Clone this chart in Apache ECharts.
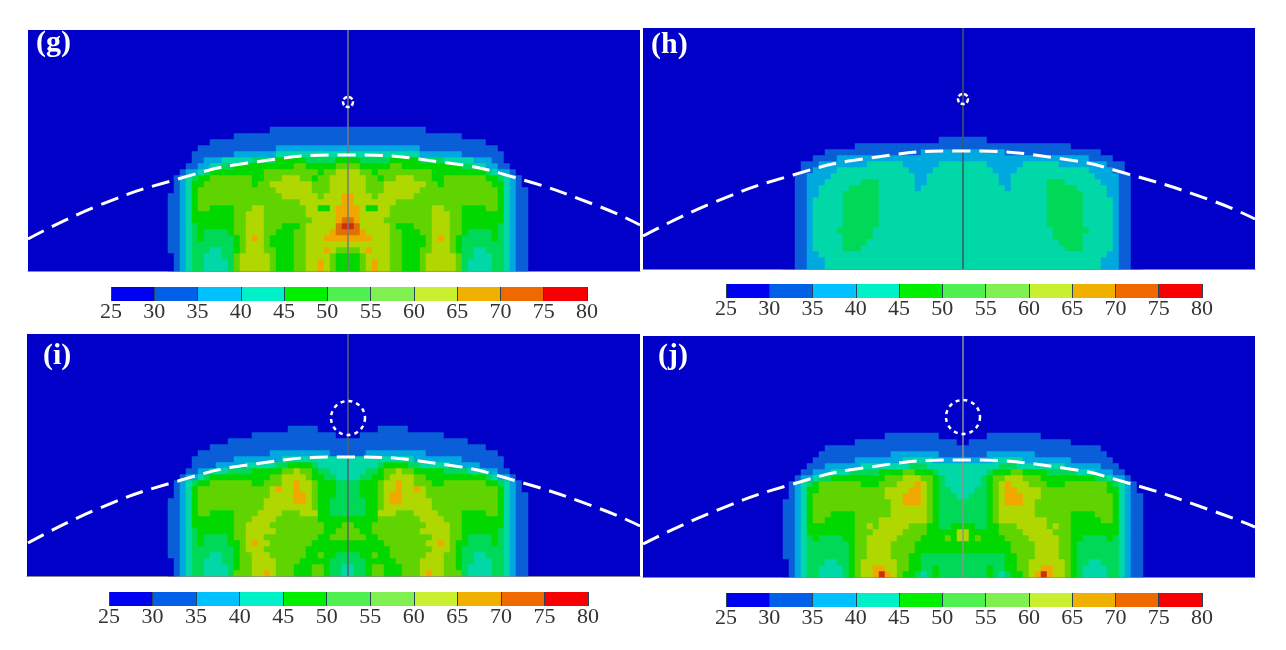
<!DOCTYPE html>
<html><head><meta charset="utf-8">
<style>html,body{margin:0;padding:0;background:#fff}#c{width:1286px;height:650px;filter:blur(0.7px)}</style>
<script src="https://cdn.jsdelivr.net/npm/echarts@6/dist/echarts.min.js"></script>
</head><body><div id="c"></div>
<script>
// Temperature band codes, bottom row first. 0=25-30 ... 9=70-75, a=75-80
const rowsG = [
"0123443333 4677777655 5667787655 5567877665 5567777764 3333443211",
"0123443333 4677777655 5667787655 5567877665 5567777764 3333443211",
"0123443334 4677777655 5667777655 5567777665 5567777764 4333443211",
"1123444334 4567776655 5667778766 6678777665 5566777654 4334443211",
"1123444444 4567776555 5667777777 7777777665 5556777654 4444443211",
"1123454444 4567876555 5667778888 8888777665 5556787654 4444543211",
"1123454444 5667776655 5667777899 9987777665 5566777665 4444543211",
"1123455555 5667776665 556777779a a977777655 5666777665 5555543211",
"1123555555 5667776666 6666777789 9877776666 6666777665 5555553211",
"1123555555 5667776666 6667777788 8877777666 6666777665 5555553211",
"1123566555 5666776666 6667755788 8875577666 6666776665 5556653211",
"1123566666 6666666666 6677777778 8777777766 6666666666 6666653211",
"1123566666 6666666667 7777767778 8777677777 7666666666 6666653211",
"0123566666 6666666677 7777666777 7776667777 7766666666 6666653211",
"0123556666 6666566777 7777666777 7776667777 7776656666 6666553210",
"0123455666 6666556667 7766566777 7776656677 7666556666 6665543210",
"0012234555 5555556666 6666656677 7766566666 6666555555 5554322100",
"0001122334 4555555555 5665555566 6655555665 5555555554 4332211000",
"0000112223 3333444455 5554444455 5544444555 5544443333 3222110000",
"0000111111 1222222233 3333333333 3333333333 3322222221 1111110000",
"0000011111 1111111122 2222222222 2222222222 2211111111 1111100000",
"0000000111 1111111111 1111111111 1111111111 1111111111 1110000000",
"0000000000 0111111111 1111111111 1111111111 1111111110 0000000000",
"0000000000 0000000111 1111111111 1111111111 1110000000 0000000000"
];
const rowsH = [
"0011222333 3333333333 3333333333 3333333333 3333333333 3332221100",
"0011222333 3333333333 3333333333 3333333333 3333333333 3332221100",
"0011223333 3333333333 3333333333 3333333333 3333333333 3333221100",
"0011233333 4443333333 3333333333 3333333333 3333333444 3333321100",
"0011233333 4444333333 3333333333 3333333333 3333334444 3333321100",
"0011233333 4444433333 3333333333 3333333333 3333344444 3333321100",
"0011233334 4444433333 3333333333 3333333333 3333344444 4333321100",
"0011233333 4444443333 3333333333 3333333333 3333444444 3333321100",
"0011233333 4444443333 3333333333 3333333333 3333444444 3333321100",
"0011233333 4444443333 3333333333 3333333333 3333444444 3333321100",
"0011233333 4444443333 3333333333 3333333333 3333444444 3333321100",
"0011233333 4444443333 3333333333 3333333333 3333444444 3333321100",
"0011223333 4444443333 3333333333 3333333333 3333444444 3333221100",
"0011223333 3444443333 3323333333 3333333233 3333444443 3333221100",
"0011222333 3334443333 3322333333 3333332233 3333444333 3332221100",
"0011222233 3333333333 3322333333 3333332233 3333333333 3322221100",
"0001122223 3333333333 3222233333 3333322223 3333333333 3222211000",
"0001112222 2222333333 2222223333 3333222222 3333332222 2222111000",
"0000011112 2222222222 2222222222 2222222222 2222222222 2111100000",
"0000000111 1111111111 1112222222 2222222111 1111111111 1110000000",
"0000000000 0011111111 1111111111 1111111111 1111111100 0000000000",
"0000000000 0000000000 0000001111 1111000000 0000000000 0000000000"
];
const rowsI = [
"0123443333 4666778766 6555665443 3445665556 6678776664 3333443211",
"0123443333 4566777766 6555665443 3445665556 6677776654 3333443211",
"0123443334 4566777766 6655555444 4445555566 6677776654 4333443211",
"1123444334 4566777666 6665565544 4455655666 6667776654 4334443211",
"1123444444 4567776666 6665555555 5555555666 6666777654 4444443211",
"1123454444 5567877666 6666555555 5555556666 6667787655 4444543211",
"1123454444 5667776666 6666655666 6665566666 6666777665 4444543211",
"1123455555 5667777766 6666665566 6655666666 6677777665 5555543211",
"1123555555 5667777666 6666665556 6555666666 6667777665 5555553211",
"1123555555 5666777766 6666655555 5555566666 6677776665 5555553211",
"1123566555 5666677776 6677755444 4445577766 6777766665 5556653211",
"1123566666 6666667777 7777655444 4445567777 7777666666 6666653211",
"1123566666 6666667777 7887655444 4445567887 7777666666 6666653211",
"0123566666 6666666777 7887655544 4455567887 7776666666 6666653211",
"0123566666 6666666787 7877655544 4455567787 7876666666 6666653210",
"0123455666 6666556667 7877655544 4455567787 7666556666 6665543210",
"0012234555 5555555667 7776554433 3344556777 7665555555 5554322100",
"0001122333 4444555556 6766544333 3334456676 6555554444 3332211000",
"0000111122 2223333344 5555433333 3333345555 4433333222 2211110000",
"0000111111 1222222223 3333333333 3333333333 3222222221 1111110000",
"0000011111 1111111222 2222222111 1112222222 2221111111 1111100000",
"0000000111 1111111111 1111111111 1111111111 1111111111 1110000000",
"0000000000 1111111111 1111111111 1111111111 1111111111 0000000000",
"0000000000 0000111111 1111111100 0011111111 1111110000 0000000000",
"0000000000 0000000000 1111100000 0000011111 0000000000 0000000000"
];
const rowsJ = [
"0123443333 456778a876 5543454444 4444543455 678a877654 3333443211",
"0123443333 4567788776 6554454444 4444544556 6778877654 3333443211",
"0123444334 4567777776 6554444444 4444444556 6777777654 4334443211",
"1123444444 4566777766 6554444444 4444444556 6677776654 4444443211",
"1123444444 4566777766 6655555555 5555555566 6677776654 4444443211",
"1123444444 4566777766 6655555555 5555555566 6677776654 4444443211",
"1123454444 5566777776 6665555657 7565555666 6777776655 4444543211",
"1123555555 5566677777 6666555557 7555556666 7777766655 5555553211",
"1123555555 5566767777 7666554455 5544556667 7777676655 5555553211",
"1123566555 5566667777 7777654444 4444567777 7777666655 5556653211",
"1123566655 5566666677 7777654444 4444567777 7766666655 5566653211",
"1123566666 6666666677 7777654444 4444567777 7766666666 6666653211",
"1123566666 6666666677 8887654444 4444567888 7766666666 6666653211",
"0123566666 6666666777 8887654443 3444567888 7776666666 6666653211",
"0123556666 6666666777 7887654433 3344567887 7776666666 6666553210",
"0123456666 6665556667 7787654333 3334567877 7666555666 6666543210",
"0012234455 5555555666 7776654333 3334566777 6665555555 5544322100",
"0001122233 3444445555 6655543333 3333455566 5555444443 3322211000",
"0000111222 2223333333 3444333333 3333334443 3333333222 2221110000",
"0000011111 1122222222 3333322222 2222233333 2222222211 1111100000",
"0000001111 1111111122 2222221111 1111222222 2211111111 1111000000",
"0000000111 1111111111 1111111111 1111111111 1111111111 1110000000",
"0000000000 0011111111 1111111110 0111111111 1111111100 0000000000",
"0000000000 0000000111 1111110000 0000111111 1110000000 0000000000"
];
// Dashed arc, x from the centre line, y above the panel floor
const arcX  = [-320, -248, -170, -100, 0, 100, 165, 250, 292];
const arcYG = [32, 66, 92, 108, 116, 108, 94, 65, 46];
const arcYH = [33, 67, 94, 110, 118, 110, 95, 68, 50];
const arcYI = [33, 68, 95, 111, 119, 111, 96, 68, 50];
const arcYJ = [33, 66, 93, 109, 117, 109, 94, 66, 50];
// Dashed circle above each panel's centre line: height and diameter
const circleY = [169, 170, 158, 160];
const circleD = [10, 10, 34, 34];
const labels = ['(g)', '(h)', '(i)', '(j)'];
const barTicks = [25, 30, 35, 40, 45, 50, 55, 60, 65, 70, 75, 80];
const mapColors = ['#0000c8','#0a5fd8','#00a8e0','#00d8a8','#00d858','#00d800','#60d400','#b0d800','#f0a800','#e07000','#c83010'];
const barColors = ['#0000f0','#0060e8','#00c0ff','#00f0c8','#00f000','#50f050','#80f050','#c8f030','#f0b000','#f06800','#f80000'];

// Layout
const panels = [
 {l:28,  t:30,  w:612, h:241, c:348, rows:rowsG, arc:arcYG, line:'#7a7a7a', bl:111, bt:287, bw:476},
 {l:643, t:28,  w:612, h:241, c:963, rows:rowsH, arc:arcYH, line:'#3e5a5c', bl:726, bt:284, bw:476},
 {l:27,  t:334, w:613, h:242, c:348, rows:rowsI, arc:arcYI, line:'#56606a', bl:109, bt:592, bw:479},
 {l:643, t:336, w:612, h:241, c:963, rows:rowsJ, arc:arcYJ, line:'#909090', bl:726, bt:593, bw:476}
];
const labelPos = [[36,28],[651,30],[43,341],[658,341]];
const grid=[], xAxis=[], yAxis=[], series=[], title=[];
panels.forEach((p,i)=>{
  grid.push({left:p.l, top:p.t, width:p.w, height:p.h, show:true, backgroundColor:mapColors[0], borderWidth:0});
  xAxis.push({type:'value', gridIndex:i, min:p.l-p.c, max:p.l+p.w-p.c, splitLine:{show:false}, axisTick:{show:false}, axisLabel:{show:false}, axisLine:{show:true, onZero:false, lineStyle:{color:'#8a8a8a',width:1}}});
  yAxis.push({type:'value', gridIndex:i, min:0, max:p.h, splitLine:{show:false}, axisTick:{show:false}, axisLabel:{show:false}, axisLine:{show:false}});
  title.push({text:labels[i], left:labelPos[i][0], top:labelPos[i][1], padding:0, textStyle:{color:'#fff', fontFamily:'Liberation Serif', fontWeight:'bold', fontSize:30}});
});
panels.forEach((p,i)=>{
  const rows = p.rows.map(s=>s.replace(/ /g,''));
  const n = rows.length, g = 4+i;
  grid.push({left:p.c-180, top:p.t+p.h-n*6, width:360, height:n*6});
  xAxis.push({type:'category', gridIndex:g, show:false, data:rows[0].split('').map((_,k)=>k)});
  yAxis.push({type:'category', gridIndex:g, show:false, data:rows.map((_,r)=>r)});
  const data=[];
  rows.forEach((s,r)=>{ for(let k=0;k<s.length;k++){ data.push([k,r,27.5+5*parseInt(s[k],16)]); } });
  series.push({type:'heatmap', xAxisIndex:g, yAxisIndex:g, data, progressive:0, animation:false, z:2, emphasis:{disabled:true}});
});
panels.forEach((p,i)=>{
  series.push({type:'line', xAxisIndex:i, yAxisIndex:i, data:[[0,0],[0,p.h]], symbol:'none', silent:true, z:4, lineStyle:{color:p.line,width:1.5}, animation:false});
  series.push({type:'line', xAxisIndex:i, yAxisIndex:i, data:arcX.map((x,k)=>[x,p.arc[k]]), smooth:0.5, symbol:'none', silent:true, z:5, lineStyle:{color:'#fff',width:3,type:[18,9]}, animation:false});
  series.push({type:'scatter', xAxisIndex:i, yAxisIndex:i, data:[[0,circleY[i]]], symbol:'circle', symbolSize:circleD[i], silent:true, z:6, animation:false, itemStyle:{color:'rgba(0,0,0,0)', borderColor:'#fff', borderWidth:2.5, borderType:i<2?[4,2]:[4,4], opacity:1}});
});
panels.forEach((p,i)=>{
  const g = 8+i;
  grid.push({left:p.bl, top:p.bt, width:p.bw, height:14});
  xAxis.push({type:'value', gridIndex:g, min:barTicks[0], max:barTicks[barTicks.length-1], interval:5, z:6, splitLine:{show:false},
    axisLine:{show:false}, axisTick:{show:true, inside:true, length:14, lineStyle:{color:'#24445a',width:1}},
    axisLabel:{color:'#333', fontFamily:'Liberation Serif', fontSize:22, margin:0, showMinLabel:true, showMaxLabel:true, hideOverlap:false}});
  yAxis.push({type:'category', gridIndex:g, show:false, data:['bar']});
  for(let k=barColors.length-1;k>=0;k--){
    series.push({type:'bar', xAxisIndex:g, yAxisIndex:g, data:[barTicks[k+1]], barWidth:'100%', barGap:'-100%', silent:true, animation:false, z:3, itemStyle:{color:barColors[k]}});
  }
});
const chart = echarts.init(document.getElementById('c'), null, {renderer:'canvas'});
chart.setOption({
  animation:false, backgroundColor:'#fff', title, grid, xAxis, yAxis, series,
  visualMap:{type:'piecewise', show:false, seriesIndex:[0,1,2,3], dimension:2,
    pieces:mapColors.map((c,k)=>({gte:barTicks[k], lt:barTicks[k+1], color:c}))}
});
</script></body></html>
